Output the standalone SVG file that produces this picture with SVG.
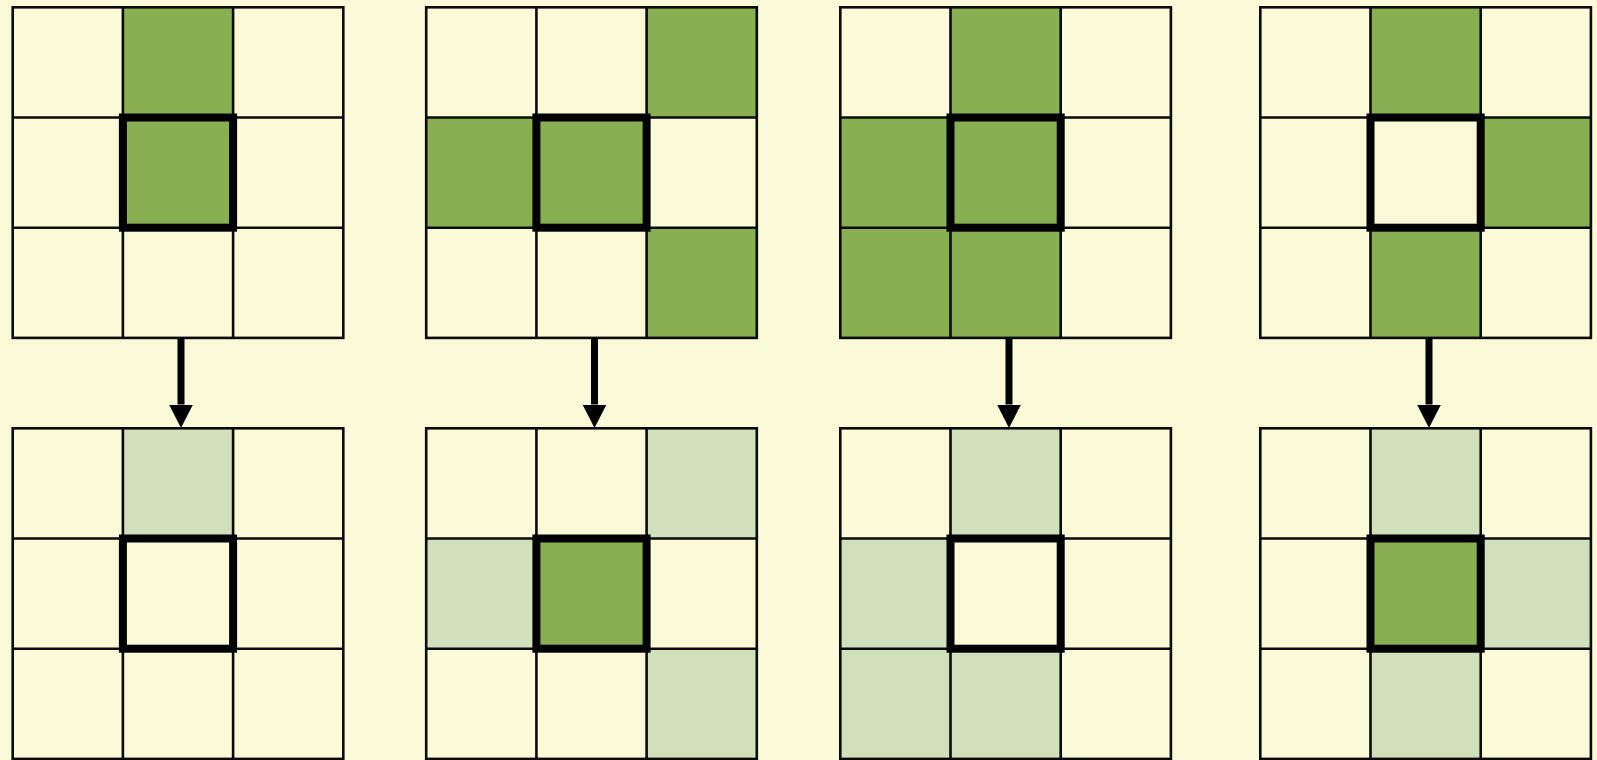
<svg xmlns="http://www.w3.org/2000/svg" width="1597" height="760" viewBox="0 0 1597 760">
<defs>
<style>
.bg{fill:#FAFAD8}
.c{fill:#FAFAD8}
.g{fill:#88B051}
.l{fill:#D0DFBC}
.grid{fill:none;stroke:#0A0A0A;stroke-width:2.6}
.thick{fill:none;stroke:#000;stroke-width:8}
.arrow{stroke:#000;stroke-width:7;fill:none}
</style>
<marker id="ah" markerUnits="userSpaceOnUse" markerWidth="25" markerHeight="25" refX="0" refY="12" orient="auto" viewBox="0 0 25 25">
<path d="M0,0 L23.5,12 L0,24 Z" fill="#000"/>
</marker>
<g id="lines">
<rect class="grid" x="0" y="0" width="330.6" height="330.6"/>
<line class="grid" x1="110.2" y1="0" x2="110.2" y2="330.6"/>
<line class="grid" x1="220.4" y1="0" x2="220.4" y2="330.6"/>
<line class="grid" x1="0" y1="110.2" x2="330.6" y2="110.2"/>
<line class="grid" x1="0" y1="220.4" x2="330.6" y2="220.4"/>
</g>
</defs>
<rect class="bg" x="0" y="0" width="1597" height="760"/>

<g id="grid1-top" transform="translate(12.7,7.3)">
<rect class="c" x="0" y="0" width="330.6" height="330.6"/>
<rect class="g" x="110.2" y="0" width="110.2" height="110.2"/>
<rect class="g" x="110.2" y="110.2" width="110.2" height="110.2"/>
<use href="#lines"/>
<rect class="thick" x="110.2" y="110.2" width="110.2" height="110.2"/>
</g>
<g id="grid1-bottom" transform="translate(12.7,428.3)">
<rect class="c" x="0" y="0" width="330.6" height="330.6"/>
<rect class="l" x="110.2" y="0" width="110.2" height="110.2"/>
<use href="#lines"/>
<rect class="thick" x="110.2" y="110.2" width="110.2" height="110.2"/>
</g>

<g id="grid2-top" transform="translate(426.2,7.3)">
<rect class="c" x="0" y="0" width="330.6" height="330.6"/>
<rect class="g" x="220.4" y="0" width="110.2" height="110.2"/>
<rect class="g" x="0" y="110.2" width="110.2" height="110.2"/>
<rect class="g" x="110.2" y="110.2" width="110.2" height="110.2"/>
<rect class="g" x="220.4" y="220.4" width="110.2" height="110.2"/>
<use href="#lines"/>
<rect class="thick" x="110.2" y="110.2" width="110.2" height="110.2"/>
</g>
<g id="grid2-bottom" transform="translate(426.2,428.3)">
<rect class="c" x="0" y="0" width="330.6" height="330.6"/>
<rect class="l" x="220.4" y="0" width="110.2" height="110.2"/>
<rect class="l" x="0" y="110.2" width="110.2" height="110.2"/>
<rect class="g" x="110.2" y="110.2" width="110.2" height="110.2"/>
<rect class="l" x="220.4" y="220.4" width="110.2" height="110.2"/>
<use href="#lines"/>
<rect class="thick" x="110.2" y="110.2" width="110.2" height="110.2"/>
</g>

<g id="grid3-top" transform="translate(840.3,7.3)">
<rect class="c" x="0" y="0" width="330.6" height="330.6"/>
<rect class="g" x="110.2" y="0" width="110.2" height="110.2"/>
<rect class="g" x="0" y="110.2" width="110.2" height="110.2"/>
<rect class="g" x="110.2" y="110.2" width="110.2" height="110.2"/>
<rect class="g" x="0" y="220.4" width="110.2" height="110.2"/>
<rect class="g" x="110.2" y="220.4" width="110.2" height="110.2"/>
<use href="#lines"/>
<rect class="thick" x="110.2" y="110.2" width="110.2" height="110.2"/>
</g>
<g id="grid3-bottom" transform="translate(840.3,428.3)">
<rect class="c" x="0" y="0" width="330.6" height="330.6"/>
<rect class="l" x="110.2" y="0" width="110.2" height="110.2"/>
<rect class="l" x="0" y="110.2" width="110.2" height="110.2"/>
<rect class="l" x="0" y="220.4" width="110.2" height="110.2"/>
<rect class="l" x="110.2" y="220.4" width="110.2" height="110.2"/>
<use href="#lines"/>
<rect class="thick" x="110.2" y="110.2" width="110.2" height="110.2"/>
</g>

<g id="grid4-top" transform="translate(1260.3,7.3)">
<rect class="c" x="0" y="0" width="330.6" height="330.6"/>
<rect class="g" x="110.2" y="0" width="110.2" height="110.2"/>
<rect class="g" x="220.4" y="110.2" width="110.2" height="110.2"/>
<rect class="g" x="110.2" y="220.4" width="110.2" height="110.2"/>
<use href="#lines"/>
<rect class="thick" x="110.2" y="110.2" width="110.2" height="110.2"/>
</g>
<g id="grid4-bottom" transform="translate(1260.3,428.3)">
<rect class="c" x="0" y="0" width="330.6" height="330.6"/>
<rect class="l" x="110.2" y="0" width="110.2" height="110.2"/>
<rect class="l" x="220.4" y="110.2" width="110.2" height="110.2"/>
<rect class="g" x="110.2" y="110.2" width="110.2" height="110.2"/>
<rect class="l" x="110.2" y="220.4" width="110.2" height="110.2"/>
<use href="#lines"/>
<rect class="thick" x="110.2" y="110.2" width="110.2" height="110.2"/>
</g>

<g id="connectors">
<line class="arrow" x1="181" y1="338" x2="181" y2="404.5" marker-end="url(#ah)"/>
<line class="arrow" x1="594.5" y1="338" x2="594.5" y2="404.5" marker-end="url(#ah)"/>
<line class="arrow" x1="1009" y1="338" x2="1009" y2="404.5" marker-end="url(#ah)"/>
<line class="arrow" x1="1429" y1="338" x2="1429" y2="404.5" marker-end="url(#ah)"/>
</g>
</svg>
